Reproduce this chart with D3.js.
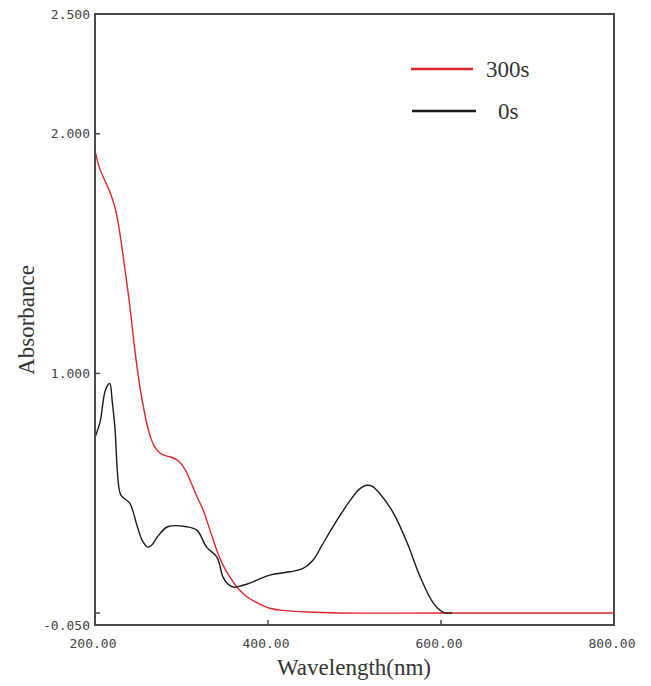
<!DOCTYPE html>
<html><head><meta charset="utf-8">
<script src="https://cdn.jsdelivr.net/npm/d3@7"></script>
<style>body{margin:0;background:#fff}</style>
</head><body>
<script>
// Data
const wl300 = [200,205,212,218,224,229,234,240,245,250,256,262,268,275,283,290,297,304,311,318,325,333,341,348,356,366,376,389,402,420,445,483,600,800];
const abs300 = [1.93,1.86,1.80,1.75,1.68,1.58,1.45,1.29,1.13,0.99,0.86,0.76,0.70,0.668,0.655,0.648,0.632,0.60,0.545,0.485,0.43,0.345,0.26,0.2,0.15,0.1,0.067,0.04,0.02,0.01,0.004,0.0,0.0,0.0];
const wl0 = [200,206,212,217,220,223,229,233,240,249,255,261,266,272,284,306,318,329,341,348,354,360,370,379,402,425,440,452,462,475,495,505,514,521,529,545,561,576,591,602,613];
const abs0 = [0.733,0.8,0.93,0.958,0.88,0.775,0.5,0.48,0.46,0.36,0.3,0.275,0.285,0.317,0.36,0.36,0.345,0.275,0.233,0.15,0.12,0.108,0.115,0.125,0.158,0.172,0.185,0.22,0.28,0.36,0.47,0.515,0.533,0.528,0.5,0.417,0.292,0.15,0.042,0.004,0.0];
const yLabelVals = [2.5, 2.0, 1.0, -0.05];
const yLabelText = ["2.500","2.000","1.000","-0.050"];
const yTickVals = [2.0, 1.0, 0.0];
const xLabelVals = [200, 400, 600, 800];
const xLabelText = ["200.00","400.00","600.00","800.00"];
const xTickVals = [400, 600];
const seriesNames = ["300s","0s"];
const seriesColors = ["#e0262a","#1a1a1a"];

const W = 651, H = 686;
const m = {l:95, r:614, t:14, b:625};
const x = d3.scaleLinear().domain([200,800]).range([m.l, m.r]);
const y = d3.scaleLinear().domain([-0.05,2.5]).range([m.b, m.t]);

const svg = d3.select("body").append("svg").attr("width",W).attr("height",H);

// curves
const line = d3.line().x(d=>x(d[0])).y(d=>y(d[1])).curve(d3.curveCatmullRom.alpha(0.5));
svg.append("path").datum(d3.zip(wl300,abs300)).attr("d",line)
  .attr("fill","none").attr("stroke",seriesColors[0]).attr("stroke-width",1.4);
svg.append("path").datum(d3.zip(wl0,abs0)).attr("d",line)
  .attr("fill","none").attr("stroke",seriesColors[1]).attr("stroke-width",1.4);

// frame
svg.append("rect").attr("x",m.l).attr("y",m.t).attr("width",m.r-m.l).attr("height",m.b-m.t)
  .attr("fill","none").attr("stroke","#4a4a4a").attr("stroke-width",2);

// y ticks
svg.selectAll(".yt").data(yTickVals).enter().append("line")
  .attr("x1",m.l).attr("x2",m.l+5).attr("y1",d=>y(d)).attr("y2",d=>y(d))
  .attr("stroke","#4a4a4a").attr("stroke-width",1.5);
// x ticks
svg.selectAll(".xt").data(xTickVals).enter().append("line")
  .attr("x1",d=>x(d)).attr("x2",d=>x(d)).attr("y1",m.b).attr("y2",m.b-5)
  .attr("stroke","#4a4a4a").attr("stroke-width",1.5);

const tickFont = "'DejaVu Sans Mono', monospace";
svg.selectAll(".yl").data(yLabelVals).enter().append("text")
  .attr("x",m.l-5).attr("y",d=>y(d)).attr("dy","0.35em").attr("text-anchor","end")
  .attr("font-family",tickFont).attr("font-size",13).attr("fill","#444")
  .text((d,i)=>yLabelText[i]);
svg.selectAll(".xl").data(xLabelVals).enter().append("text")
  .attr("x",d=>x(d)-2).attr("y",648).attr("text-anchor","middle")
  .attr("font-family",tickFont).attr("font-size",13).attr("fill","#444")
  .text((d,i)=>xLabelText[i]);

// axis titles
svg.append("text").attr("x",354).attr("y",675).attr("text-anchor","middle")
  .attr("font-family","'Liberation Serif', serif").attr("font-size",23).attr("fill","#333")
  .text("Wavelength(nm)");
svg.append("text").attr("transform","translate(34,320) rotate(-90)").attr("text-anchor","middle")
  .attr("font-family","'Liberation Serif', serif").attr("font-size",23).attr("fill","#333")
  .text("Absorbance");

// legend
const leg = [{x1:411,x2:473,y:69,tx:486},{x1:412,x2:476,y:111,tx:498}];
leg.forEach((l,i)=>{
  svg.append("line").attr("x1",l.x1).attr("x2",l.x2).attr("y1",l.y).attr("y2",l.y)
    .attr("stroke",seriesColors[i]).attr("stroke-width",2.5);
  svg.append("text").attr("x",l.tx).attr("y",l.y).attr("dy","0.35em")
    .attr("font-family","'Liberation Serif', serif").attr("font-size",23).attr("fill","#333")
    .text(seriesNames[i]);
});
</script>
</body></html>
